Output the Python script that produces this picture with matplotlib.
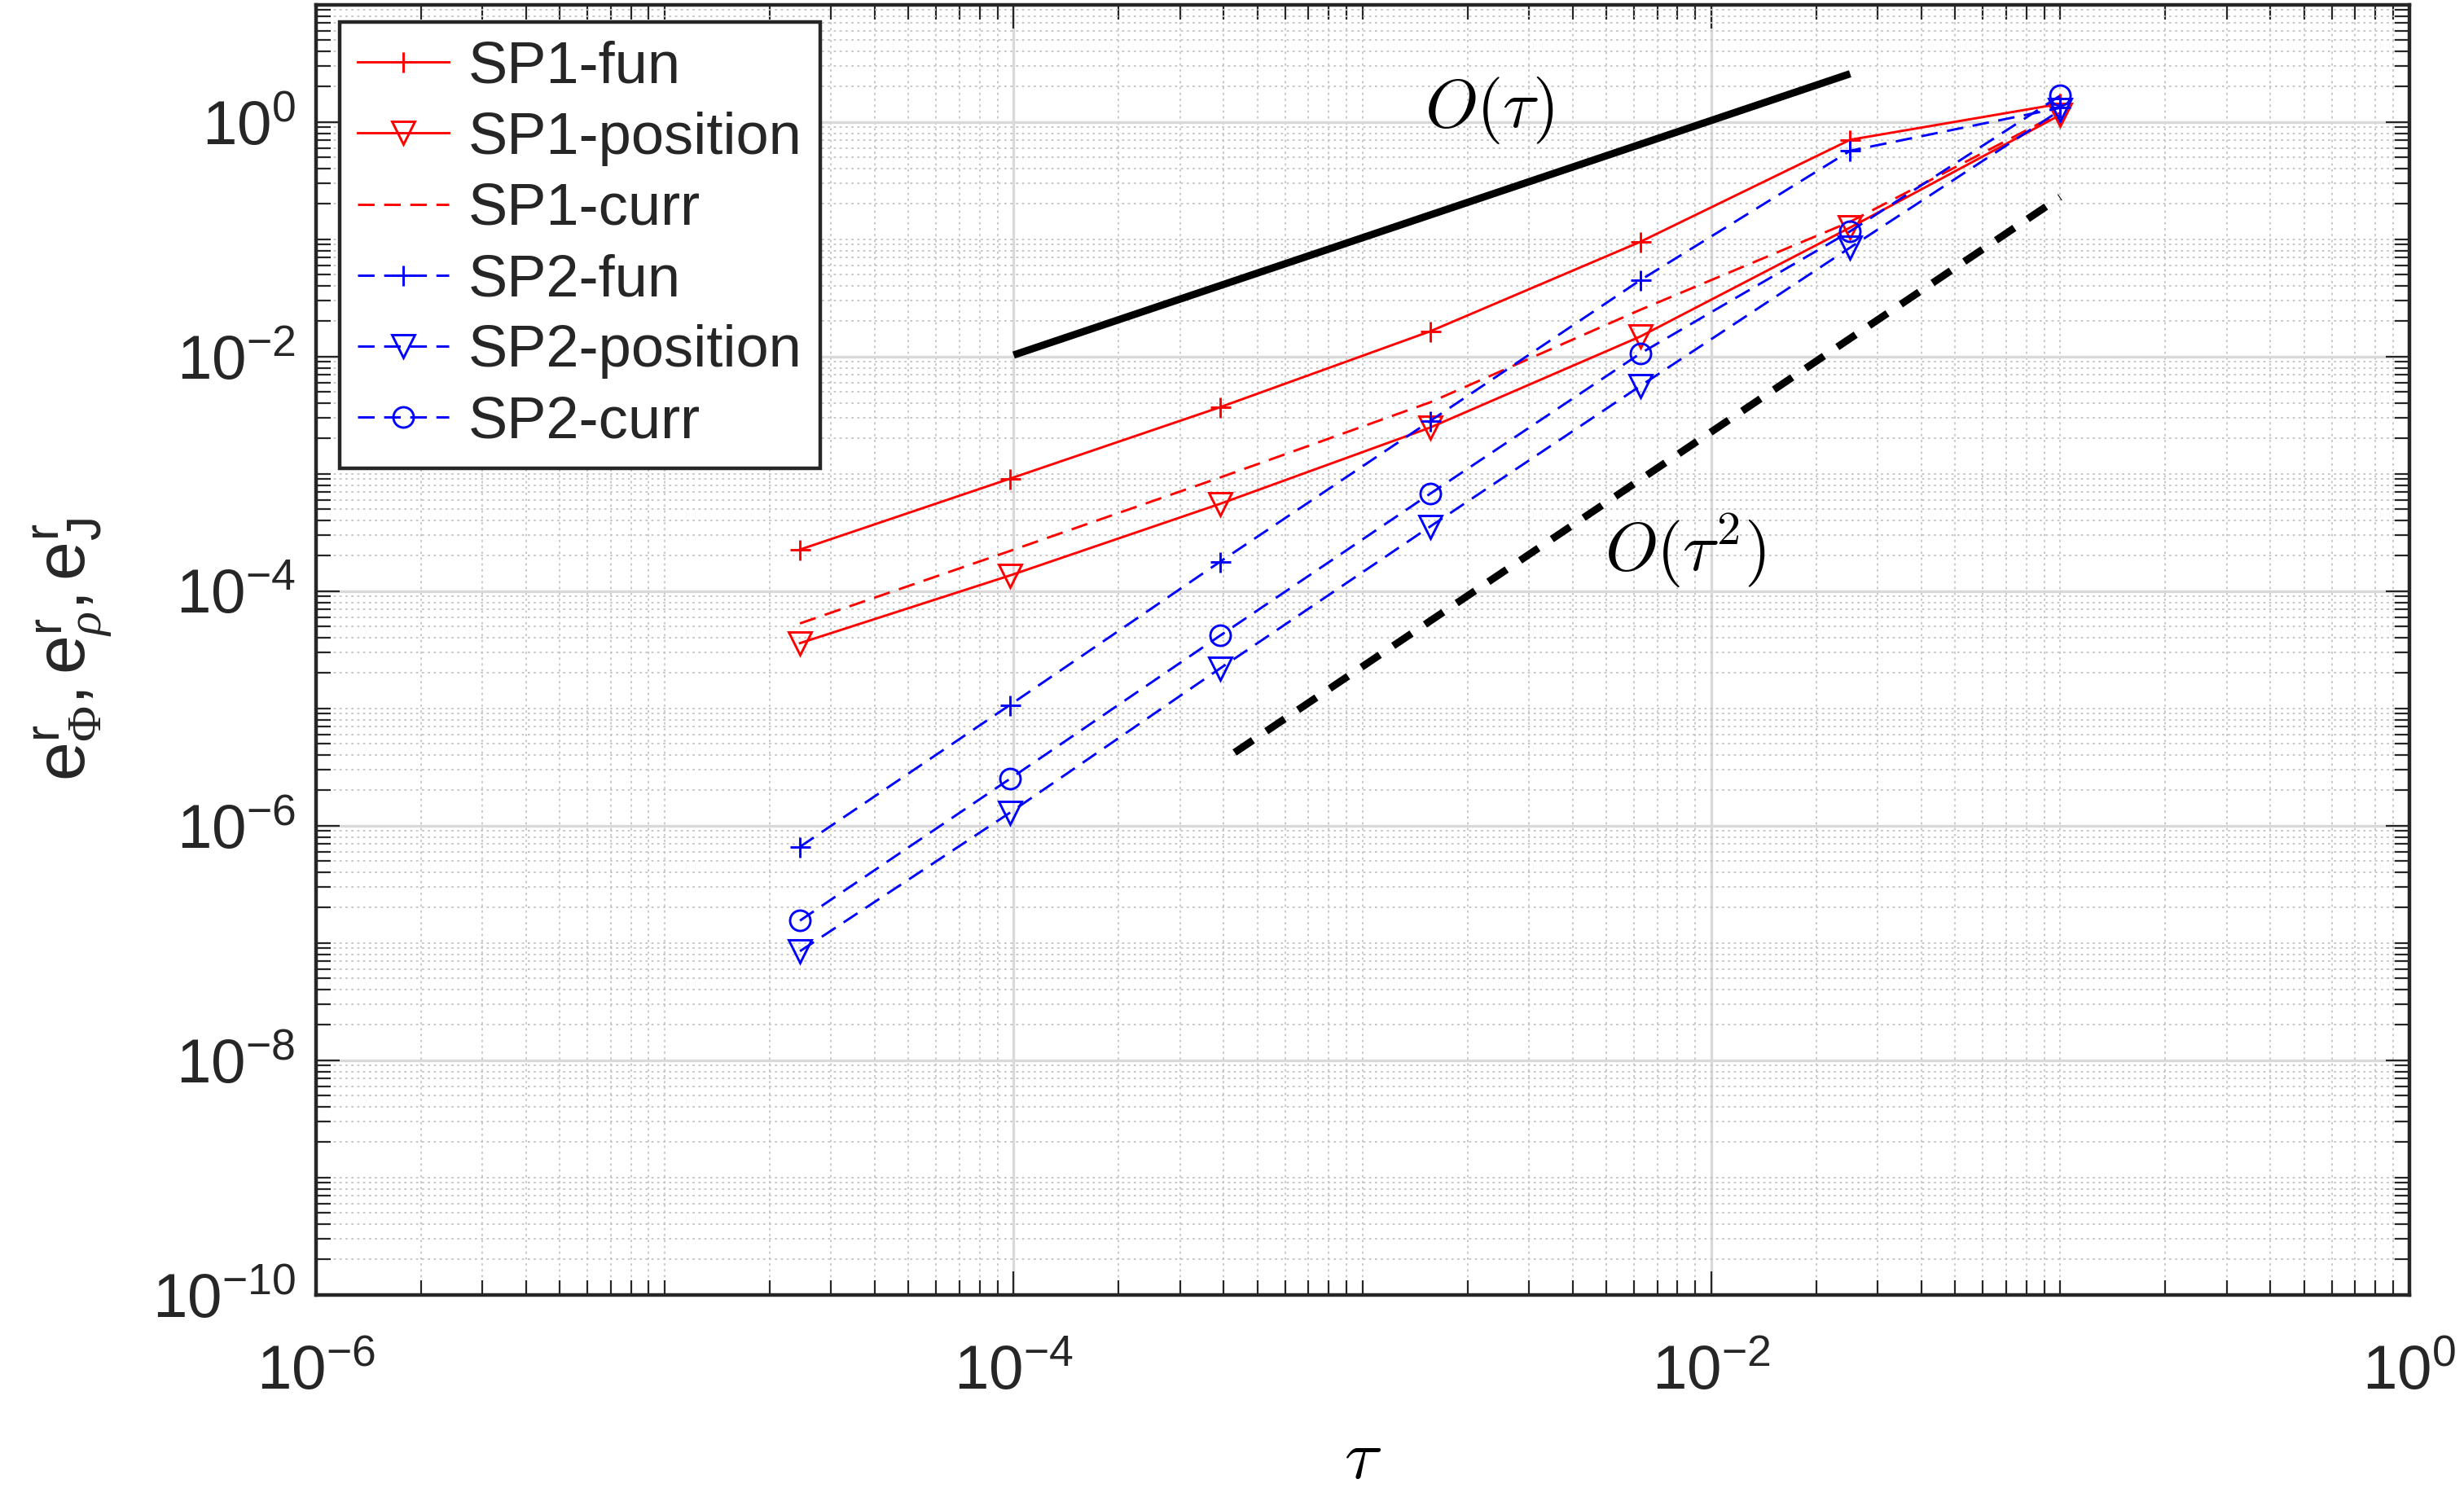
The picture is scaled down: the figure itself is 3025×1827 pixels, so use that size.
import numpy as np
import matplotlib
matplotlib.use('Agg')
import matplotlib.pyplot as plt
from matplotlib.ticker import LogLocator, NullFormatter, FixedLocator

plt.rcParams['font.family'] = ['Liberation Sans', 'DejaVu Sans']
plt.rcParams['mathtext.fontset'] = 'custom'
plt.rcParams['mathtext.rm'] = 'Liberation Sans'
plt.rcParams['mathtext.it'] = 'Liberation Serif:italic'
plt.rcParams['mathtext.cal'] = 'Liberation Serif'

# time steps tau = 0.1 / 4^k
tau = [2.44140625e-5, 9.765625e-5, 3.90625e-4, 1.5625e-3, 6.25e-3, 0.025, 0.1]

sp1_fun = [2.26e-4, 9.1e-4, 3.7e-3, 1.64e-2, 9.5e-2, 0.706, 1.43]
sp1_position = [3.6e-5, 1.36e-4, 5.55e-4, 2.48e-3, 1.48e-2, 0.126, 1.15]
sp1_curr = [5.3e-5, 2.2e-4, 9.3e-4, 4.07e-3, 2.5e-2, 0.141, 1.2]
sp2_fun = [6.6e-7, 1.07e-5, 1.78e-4, 2.82e-3, 4.47e-2, 0.569, 1.32]
sp2_position = [8.5e-8, 1.29e-6, 2.19e-5, 3.55e-4, 5.6e-3, 8.5e-2, 1.26]
sp2_curr = [1.55e-7, 2.51e-6, 4.17e-5, 6.76e-4, 1.06e-2, 0.117, 1.68]

# reference slopes
order1_tau = [1e-4, 0.025]
order1_err = [1.03e-2, 2.58]
order2_tau = [4.3e-4, 0.1]
order2_err = [4.2e-6, 0.229]

fig = plt.figure(figsize=(30.25, 18.27), dpi=100)
ax = fig.add_axes([0.1282, 0.1299, 0.8495, 0.8669])

lw = 2.1
dash = (7, 4)
ax.plot(tau, sp1_fun, '-', color='r', lw=lw, marker='+', ms=18, mew=lw, label='SP1-fun')
ax.plot(tau, sp1_position, '-', color='r', lw=lw, marker='v', ms=20, mfc='none', mew=lw,
        label='SP1-position')
ax.plot(tau, sp1_curr, '--', color='r', lw=lw, dashes=dash, label='SP1-curr')
ax.plot(tau, sp2_fun, '--', color='b', lw=lw, dashes=dash, marker='+', ms=18, mew=lw, label='SP2-fun')
ax.plot(tau, sp2_position, '--', color='b', lw=lw, dashes=dash, marker='v', ms=20, mfc='none', mew=lw,
        label='SP2-position')
ax.plot(tau, sp2_curr, '--', color='b', lw=lw, dashes=dash, marker='o', ms=18, mfc='none', mew=lw,
        label='SP2-curr')

ax.plot(order1_tau, order1_err, '-', color='k', lw=6.5, solid_capstyle='butt')
ax.plot(order2_tau, order2_err, '--', color='k', lw=6.5, dashes=(3, 2.2))

ax.text(2.31e-3, 1.25, r'$O(\tau)$', fontsize=60, math_fontfamily='cm', ha='center', va='center')
ax.text(8.41e-3, 2.22e-4, r'$O(\tau^2)$', fontsize=60, math_fontfamily='cm', ha='center', va='center')

ax.set_xscale('log')
ax.set_yscale('log')
ax.set_xlim(1e-6, 1)
ax.set_ylim(1e-10, 1e1)

ax.xaxis.set_major_locator(FixedLocator([1e-6, 1e-4, 1e-2, 1]))
ax.yaxis.set_major_locator(FixedLocator([1e-10, 1e-8, 1e-6, 1e-4, 1e-2, 1]))
ax.xaxis.set_minor_locator(LogLocator(base=10, subs=np.arange(1, 10), numticks=200))
ax.yaxis.set_minor_locator(LogLocator(base=10, subs=np.arange(1, 10), numticks=200))
ax.xaxis.set_minor_formatter(NullFormatter())
ax.yaxis.set_minor_formatter(NullFormatter())

ax.tick_params(which='both', direction='in', top=True, right=True, width=1.6, colors='#262626')
ax.tick_params(which='major', length=21, labelsize=55, labelcolor='#262626')
ax.tick_params(axis='x', which='major', pad=44)
ax.tick_params(axis='y', which='major', pad=18)
ax.tick_params(which='minor', length=13)
for s in ax.spines.values():
    s.set_linewidth(3.2)
    s.set_color('#262626')

ax.grid(True, which='major', color='#d9d9d9', lw=2.4, ls='-')
ax.grid(True, which='minor', color='#c4c4c4', lw=1.3, ls=(0, (1.5, 2.5)))
ax.set_axisbelow(True)

ax.set_xlabel(r'$\tau$', fontsize=62, math_fontfamily='cm')
ax.xaxis.set_label_coords(0.5, -0.103)
ax.set_ylabel(r'$\mathrm{e}_{\mathcal{\Phi}}^{\mathrm{r}}, \mathrm{e}_{\rho}^{\mathrm{r}}, \mathrm{e}_{\mathrm{J}}^{\mathrm{r}}$',
              fontsize=62, color='#262626')
ax.yaxis.set_label_coords(-0.097, 0.5)

leg = ax.legend(loc='upper left', bbox_to_anchor=(0.0113, 0.9866), borderaxespad=0, fontsize=52,
                fancybox=False, edgecolor='#262626', framealpha=1, handlelength=1.55,
                handletextpad=0.32, labelspacing=0.28, borderpad=0.31)
leg.get_frame().set_linewidth(3.2)
for t in leg.get_texts():
    t.set_color('#262626')

fig.savefig('out.png', dpi=100)
